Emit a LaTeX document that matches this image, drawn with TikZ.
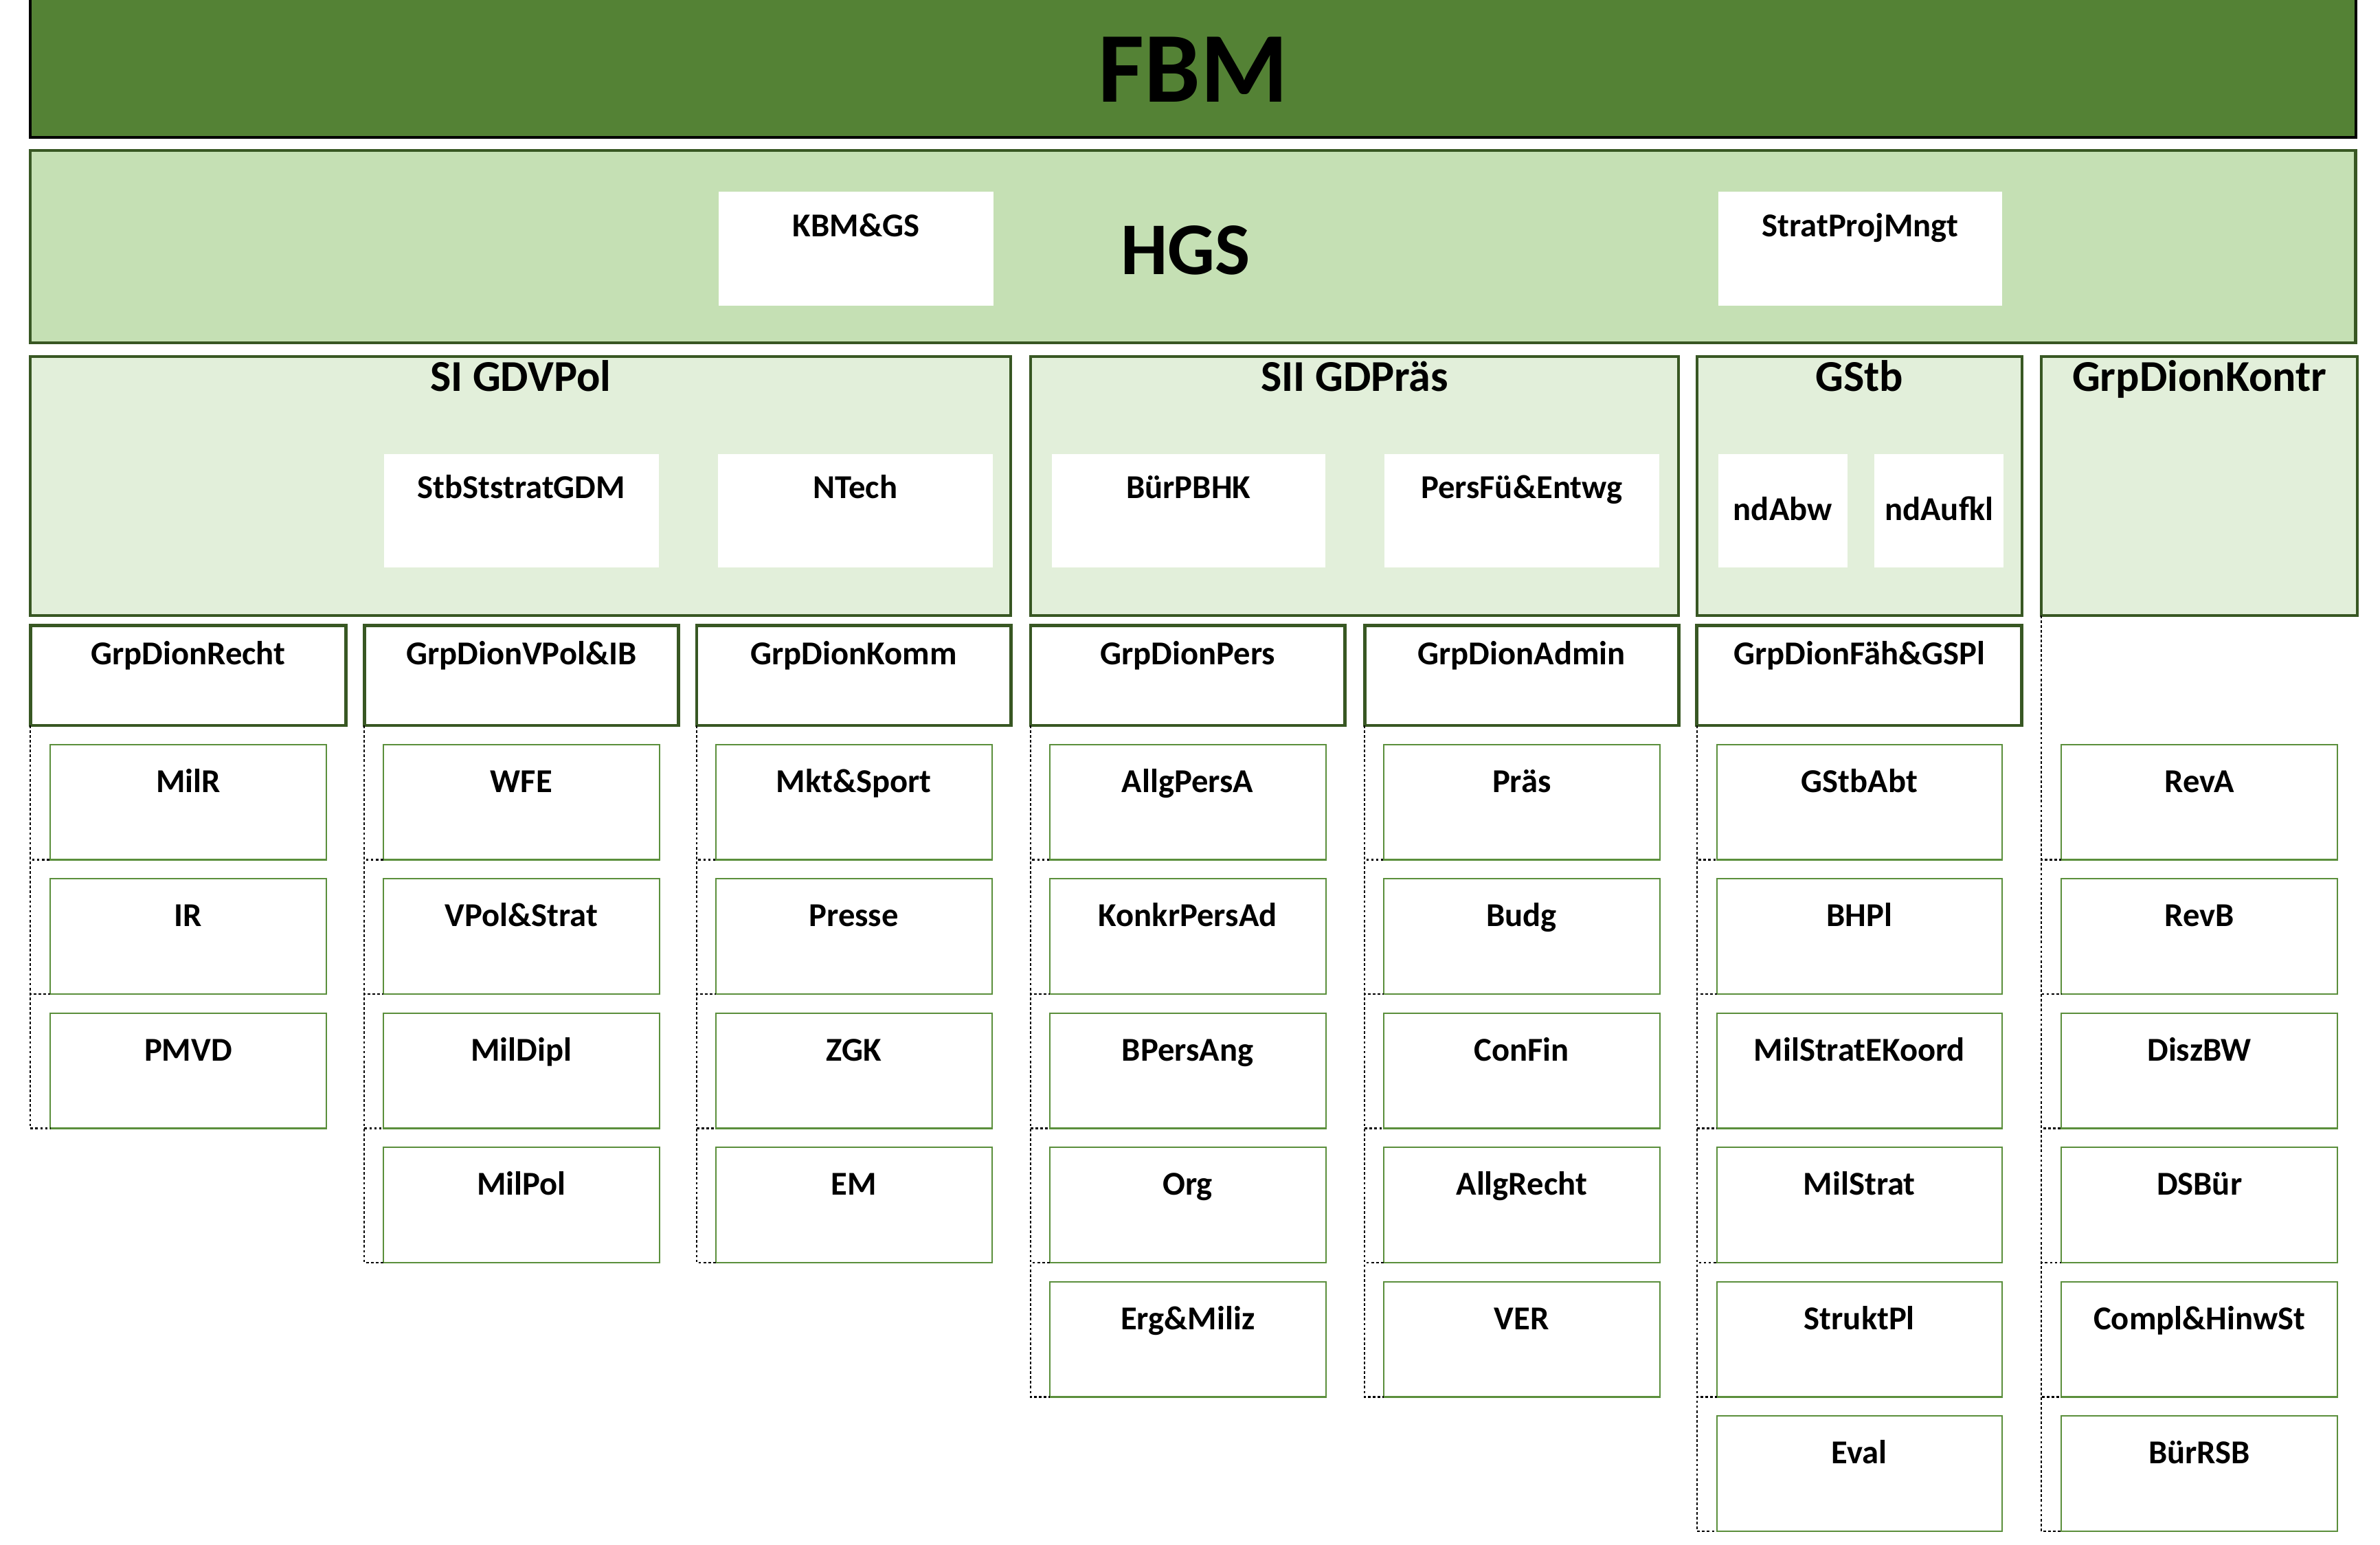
\documentclass[tikz,border=0pt]{standalone}
\usepackage{fontspec}
\setmainfont{Carlito}
\usepackage{tikz}
\usetikzlibrary{positioning}
\definecolor{FBMGreen}{HTML}{548235}
\definecolor{HGSGreen}{HTML}{C5E0B4}
\definecolor{SecGreen}{HTML}{E2EFDA}
\definecolor{EdgeGreen}{HTML}{385723}
\definecolor{UnitGreen}{HTML}{5B8F3C}
\tikzset{base/.style={rectangle,inner sep=0pt,outer sep=0pt,anchor=north west,align=center,font=\fontsize{22}{26}\selectfont\bfseries}, fbmbar/.style={base,draw=black,line width=1.8pt,fill=FBMGreen,minimum width=1532pt,text height=72pt,text depth=23.5pt,font=\fontsize{66}{70}\selectfont\bfseries}, hgsbar/.style={base,draw=EdgeGreen,line width=2pt,fill=HGSGreen,minimum width=1532pt,text height=82pt,text depth=45pt,font=\fontsize{49}{54}\selectfont\bfseries}, staff/.style={base,fill=white,minimum width=181pt,text height=29.5pt,text depth=45.5pt}, ndstaff/.style={staff,minimum width=85pt,text height=44pt,text depth=31pt}, section/.style={base,draw=EdgeGreen,line width=1.8pt,fill=SecGreen,text height=23pt,text depth=147.5pt,font=\fontsize{29}{33}\selectfont\bfseries}, group/.style={base,draw=EdgeGreen,line width=2.2pt,fill=white,minimum width=207pt,text height=26pt,text depth=40pt}, unit/.style={base,draw=UnitGreen,line width=1pt,fill=white,minimum width=182pt,text height=31.5pt,text depth=44.5pt}, link/.style={draw=black,line width=1pt,dash pattern=on 1.7pt off 1.5pt}}
\begin{document}
\begin{tikzpicture}[x=1pt,y=-1pt,node distance=12.5pt]
\useasboundingbox (0,0) rectangle (1568,1018);
\node[fbmbar] (fbm) at (20,-5) {FBM};
\node[hgsbar] (hgs) at (20,99) {HGS\hspace*{10pt}};\node[staff] (kbm) at (473.5,126.5) {KBM\&GS};\node[staff,minimum width=187pt] (strat) at (1132,126.5) {StratProjMngt};
\node[section,minimum width=646pt] (sone) at (20,235) {SI GDVPol};\node[section,minimum width=427pt] (stwo) at (679,235) {SII GDPräs};\node[section,minimum width=214pt] (gstb) at (1118,235) {GStb};\node[section,minimum width=208pt] (kontr) at (1345,235) {GrpDionKontr};
\node[staff] (stbst) at (253,299) {StbStstratGDM};\node[staff] (ntech) at (473,299) {NTech};\node[staff,minimum width=180pt] (buer) at (693,299) {BürPBHK};\node[staff] (persfue) at (912,299) {PersFü\&Entwg};\node[ndstaff] (ndabw) at (1132,299) {ndAbw};\node[ndstaff] (ndaufkl) at (1235,299) {ndAufkl};
\node[group,minimum width=208pt] (recht) at (20,412) {GrpDionRecht};\node[group] (vpol) at (240,412) {GrpDionVPol\&IB};\node[group] (komm) at (459,412) {GrpDionKomm};\node[group] (pers) at (679,412) {GrpDionPers};\node[group] (admin) at (899,412) {GrpDionAdmin};\node[group,minimum width=214pt] (faeh) at (1118,412) {GrpDionFäh\&GSPl};
\node[unit,below=12.5pt of recht] (milr) {MilR};\node[unit,below=of milr] (ir) {IR};\node[unit,below=of ir] (pmvd) {PMVD};
\node[unit,below=12.5pt of vpol] (wfe) {WFE};\node[unit,below=of wfe] (vpolstrat) {VPol\&Strat};\node[unit,below=of vpolstrat] (mildipl) {MilDipl};\node[unit,below=of mildipl] (milpol) {MilPol};
\node[unit,below=12.5pt of komm] (mkt) {Mkt\&Sport};\node[unit,below=of mkt] (presse) {Presse};\node[unit,below=of presse] (zgk) {ZGK};\node[unit,below=of zgk] (em) {EM};
\node[unit,below=12.5pt of pers] (allgpers) {AllgPersA};\node[unit,below=of allgpers] (konkr) {KonkrPersAd};\node[unit,below=of konkr] (bpers) {BPersAng};\node[unit,below=of bpers] (org) {Org};\node[unit,below=of org] (ergmiliz) {Erg\&Miliz};
\node[unit,below=12.5pt of admin] (praes) {Präs};\node[unit,below=of praes] (budg) {Budg};\node[unit,below=of budg] (confin) {ConFin};\node[unit,below=of confin] (allgrecht) {AllgRecht};\node[unit,below=of allgrecht] (ver) {VER};
\node[unit,minimum width=188pt,below=12.5pt of faeh] (gstbabt) {GStbAbt};\node[unit,minimum width=188pt,below=of gstbabt] (bhpl) {BHPl};\node[unit,minimum width=188pt,below=of bhpl] (milstratek) {MilStratEKoord};\node[unit,minimum width=188pt,below=of milstratek] (milstrat) {MilStrat};\node[unit,minimum width=188pt,below=of milstrat] (struktpl) {StruktPl};\node[unit,minimum width=188pt,below=of struktpl] (eval) {Eval};
\node[unit,below=85pt of kontr] (reva) {RevA};\node[unit,below=of reva] (revb) {RevB};\node[unit,below=of revb] (diszbw) {DiszBW};\node[unit,below=of diszbw] (dsbuer) {DSBür};\node[unit,below=of dsbuer] (compl) {Compl\&HinwSt};\node[unit,below=of compl] (buerrsb) {BürRSB};
\draw[link] (recht.south west) |- (milr.south west) (recht.south west) |- (ir.south west) (recht.south west) |- (pmvd.south west);
\draw[link] (vpol.south west) |- (wfe.south west) (vpol.south west) |- (vpolstrat.south west) (vpol.south west) |- (mildipl.south west) (vpol.south west) |- (milpol.south west);
\draw[link] (komm.south west) |- (mkt.south west) (komm.south west) |- (presse.south west) (komm.south west) |- (zgk.south west) (komm.south west) |- (em.south west);
\draw[link] (pers.south west) |- (allgpers.south west) (pers.south west) |- (konkr.south west) (pers.south west) |- (bpers.south west) (pers.south west) |- (org.south west) (pers.south west) |- (ergmiliz.south west);
\draw[link] (admin.south west) |- (praes.south west) (admin.south west) |- (budg.south west) (admin.south west) |- (confin.south west) (admin.south west) |- (allgrecht.south west) (admin.south west) |- (ver.south west);
\draw[link] (faeh.south west) |- (gstbabt.south west) (faeh.south west) |- (bhpl.south west) (faeh.south west) |- (milstratek.south west) (faeh.south west) |- (milstrat.south west) (faeh.south west) |- (struktpl.south west) (faeh.south west) |- (eval.south west);
\draw[link] (kontr.south west) |- (reva.south west) (kontr.south west) |- (revb.south west) (kontr.south west) |- (diszbw.south west) (kontr.south west) |- (dsbuer.south west) (kontr.south west) |- (compl.south west) (kontr.south west) |- (buerrsb.south west);
\end{tikzpicture}
\end{document}
